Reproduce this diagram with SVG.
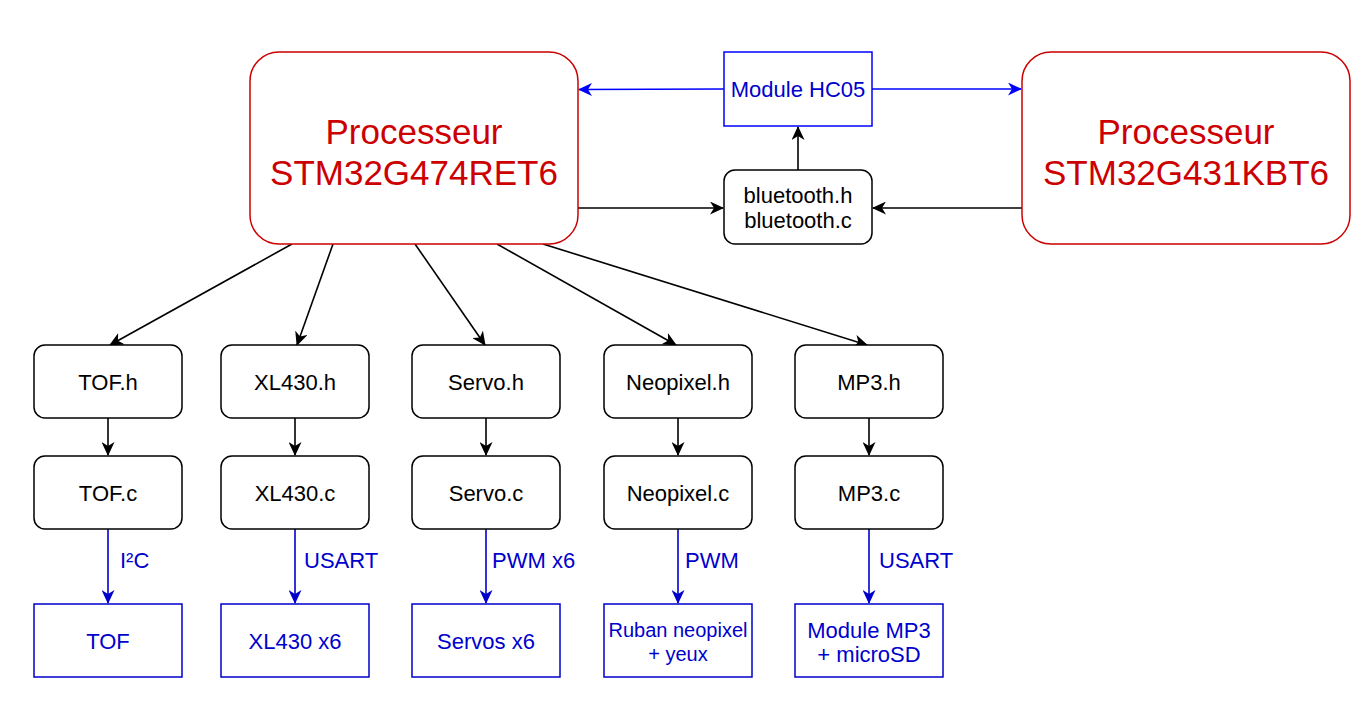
<svg xmlns="http://www.w3.org/2000/svg" width="1366" height="704" viewBox="0 0 1366 704">
<defs>
<style>
text{font-family:"Liberation Sans",Arial,sans-serif;text-anchor:middle}
.proc{fill:#fff;stroke:#CC0000;stroke-width:1.5}
.ptxt{fill:#CC0000;font-size:35px}
.node{fill:#fff;stroke:#000;stroke-width:1.5}
.ntxt{fill:#000;font-size:22px}
.hw{fill:#fff;stroke:#0000CC;stroke-width:1.5}
.hwtop{fill:#fff;stroke:#0000FF;stroke-width:1.5}
.btxt{fill:#0000CC;font-size:22px}
.lbl{fill:#0000CC;font-size:22px;text-anchor:start}
.k{stroke:#000;stroke-width:1.6;fill:none}
.b{stroke:#0000FF;stroke-width:1.6;fill:none}
.bd{stroke:#0000CC;stroke-width:1.6;fill:none}
</style>
<marker id="ak" viewBox="0 0 14 13" markerWidth="14" markerHeight="13" refX="13" refY="6.5" orient="auto" markerUnits="userSpaceOnUse"><path d="M0,0 L14,6.5 L0,13 L4,6.5 z" fill="#000"/></marker>
<marker id="ab" viewBox="0 0 14 13" markerWidth="14" markerHeight="13" refX="13" refY="6.5" orient="auto" markerUnits="userSpaceOnUse"><path d="M0,0 L14,6.5 L0,13 L4,6.5 z" fill="#0000FF"/></marker>
<marker id="abd" viewBox="0 0 14 13" markerWidth="14" markerHeight="13" refX="13" refY="6.5" orient="auto" markerUnits="userSpaceOnUse"><path d="M0,0 L14,6.5 L0,13 L4,6.5 z" fill="#0000CC"/></marker>
</defs>
<rect width="1366" height="704" fill="#fff"/>

<g id="connectors">
<line class="b" x1="724" y1="89" x2="579" y2="89.5" marker-end="url(#ab)"/>
<line class="b" x1="872" y1="89" x2="1021" y2="89" marker-end="url(#ab)"/>
<line class="k" x1="578" y1="208" x2="723" y2="208" marker-end="url(#ak)"/>
<line class="k" x1="1022" y1="208" x2="873" y2="208" marker-end="url(#ak)"/>
<line class="k" x1="798" y1="170" x2="798" y2="127" marker-end="url(#ak)"/>
<line class="k" x1="292" y1="244" x2="110" y2="345" marker-end="url(#ak)"/>
<line class="k" x1="333" y1="244" x2="297" y2="345" marker-end="url(#ak)"/>
<line class="k" x1="415" y1="244" x2="485" y2="345" marker-end="url(#ak)"/>
<line class="k" x1="497" y1="244" x2="676" y2="345" marker-end="url(#ak)"/>
<line class="k" x1="543" y1="244" x2="867" y2="345" marker-end="url(#ak)"/>
<line class="k" x1="108" y1="418" x2="108" y2="455" marker-end="url(#ak)"/>
<line class="k" x1="295" y1="418" x2="295" y2="455" marker-end="url(#ak)"/>
<line class="k" x1="486" y1="418" x2="486" y2="455" marker-end="url(#ak)"/>
<line class="k" x1="678" y1="418" x2="678" y2="455" marker-end="url(#ak)"/>
<line class="k" x1="869" y1="418" x2="869" y2="455" marker-end="url(#ak)"/>
<line class="bd" x1="108" y1="529" x2="108" y2="603" marker-end="url(#abd)"/>
<line class="bd" x1="295" y1="529" x2="295" y2="603" marker-end="url(#abd)"/>
<line class="bd" x1="486" y1="529" x2="486" y2="603" marker-end="url(#abd)"/>
<line class="bd" x1="678" y1="529" x2="678" y2="603" marker-end="url(#abd)"/>
<line class="bd" x1="869" y1="529" x2="869" y2="603" marker-end="url(#abd)"/>
<text class="lbl" x="120" y="568">I²C</text>
<text class="lbl" x="304" y="568">USART</text>
<text class="lbl" x="492" y="568">PWM x6</text>
<text class="lbl" x="685" y="568">PWM</text>
<text class="lbl" x="879" y="568">USART</text>
</g>

<g id="proc1">
<rect class="proc" x="250" y="52" width="328" height="192" rx="29"/>
<text class="ptxt" x="414" y="143.5">Processeur</text>
<text class="ptxt" x="414" y="184.5">STM32G474RET6</text>
</g>
<g id="proc2">
<rect class="proc" x="1022" y="52" width="328" height="192" rx="29"/>
<text class="ptxt" x="1186" y="143.5">Processeur</text>
<text class="ptxt" x="1186" y="184.5">STM32G431KBT6</text>
</g>
<g id="hc05">
<rect class="hwtop" x="724" y="52" width="148" height="74"/>
<text class="btxt" x="798" y="97">Module HC05</text>
</g>
<g id="bluetooth">
<rect class="node" x="724" y="170" width="148" height="74" rx="11"/>
<text class="ntxt" x="798" y="202.5">bluetooth.h</text>
<text class="ntxt" x="798" y="227.5">bluetooth.c</text>
</g>

<g id="tof_h"><rect class="node" x="34" y="345" width="148" height="73" rx="11"/><text class="ntxt" x="108" y="389.5">TOF.h</text></g>
<g id="xl430_h"><rect class="node" x="221" y="345" width="148" height="73" rx="11"/><text class="ntxt" x="295" y="389.5">XL430.h</text></g>
<g id="servo_h"><rect class="node" x="412" y="345" width="148" height="73" rx="11"/><text class="ntxt" x="486" y="389.5">Servo.h</text></g>
<g id="neo_h"><rect class="node" x="604" y="345" width="148" height="73" rx="11"/><text class="ntxt" x="678" y="389.5">Neopixel.h</text></g>
<g id="mp3_h"><rect class="node" x="795" y="345" width="148" height="73" rx="11"/><text class="ntxt" x="869" y="389.5">MP3.h</text></g>

<g id="tof_c"><rect class="node" x="34" y="456" width="148" height="73" rx="11"/><text class="ntxt" x="108" y="500.5">TOF.c</text></g>
<g id="xl430_c"><rect class="node" x="221" y="456" width="148" height="73" rx="11"/><text class="ntxt" x="295" y="500.5">XL430.c</text></g>
<g id="servo_c"><rect class="node" x="412" y="456" width="148" height="73" rx="11"/><text class="ntxt" x="486" y="500.5">Servo.c</text></g>
<g id="neo_c"><rect class="node" x="604" y="456" width="148" height="73" rx="11"/><text class="ntxt" x="678" y="500.5">Neopixel.c</text></g>
<g id="mp3_c"><rect class="node" x="795" y="456" width="148" height="73" rx="11"/><text class="ntxt" x="869" y="500.5">MP3.c</text></g>

<g id="tof"><rect class="hw" x="34" y="604" width="148" height="73"/><text class="btxt" x="108" y="648.5">TOF</text></g>
<g id="xl430"><rect class="hw" x="221" y="604" width="148" height="73"/><text class="btxt" x="295" y="648.5">XL430 x6</text></g>
<g id="servos"><rect class="hw" x="412" y="604" width="148" height="73"/><text class="btxt" x="486" y="648.5">Servos x6</text></g>
<g id="ruban"><rect class="hw" x="604" y="604" width="148" height="73"/><text class="btxt" x="678" y="637" style="font-size:20px">Ruban neopixel</text><text class="btxt" x="678" y="661" style="font-size:20px">+ yeux</text></g>
<g id="mp3"><rect class="hw" x="795" y="604" width="148" height="73"/><text class="btxt" x="869" y="637.5">Module MP3</text><text class="btxt" x="869" y="661.5">+ microSD</text></g>
</svg>
